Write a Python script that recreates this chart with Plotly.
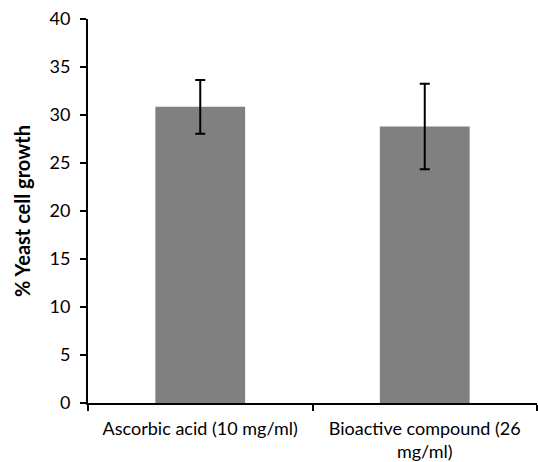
import plotly.graph_objects as go

categories = ["Ascorbic acid (10 mg/ml)", "Bioactive compound (26<br>mg/ml)"]
values = [30.85, 28.8]
errors = [2.8, 4.45]
y_ticks = [0, 5, 10, 15, 20, 25, 30, 35, 40]

font_family = "Lato, 'Open Sans', sans-serif"

fig = go.Figure(
    go.Bar(
        x=categories,
        y=values,
        marker=dict(color="#808080", line=dict(width=0)),
        error_y=dict(type="data", array=errors, visible=True,
                     color="black", thickness=2, width=5),
        hoverinfo="skip",
    )
)

fig.update_layout(
    width=538, height=462,
    margin=dict(l=88, r=1, t=19, b=59),
    plot_bgcolor="white", paper_bgcolor="white",
    bargap=0.6,
    showlegend=False,
    font=dict(family=font_family, size=18, color="black"),
)

fig.update_xaxes(
    showline=True, linecolor="black", linewidth=2,
    ticks="outside", ticklen=6, tickwidth=2, tickcolor="black",
    tickson="boundaries", showgrid=False, automargin=False,
    ticklabelstandoff=8,
    tickfont=dict(size=18, family=font_family),
)
fig.update_yaxes(
    range=[0, 40], tickvals=y_ticks,
    showline=True, linecolor="black", linewidth=2,
    ticks="outside", ticklen=6, tickwidth=2, tickcolor="black",
    showgrid=False, zeroline=False, automargin=False,
    ticklabelstandoff=6,
    tickfont=dict(size=18, family=font_family),
    title=dict(text="<b>% Yeast cell growth</b>", font=dict(size=20, family=font_family), standoff=14),
)

fig.write_html(
    "out.html",
    config={"displayModeBar": False},
    post_script="document.body.style.margin='0';document.body.style.padding='0';",
)
